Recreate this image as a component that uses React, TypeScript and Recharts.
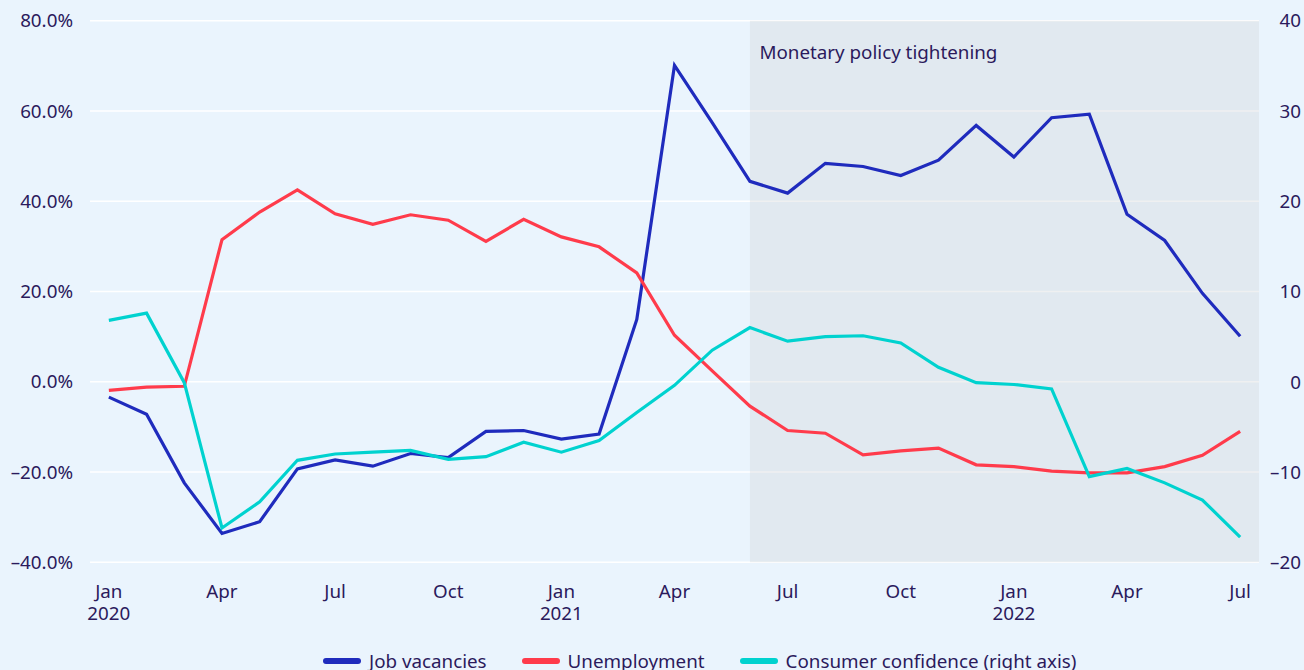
import React from 'react';
import {
  LineChart,
  Line,
  XAxis,
  YAxis,
  CartesianGrid,
  ReferenceArea,
} from 'recharts';

// monthly, Jan 2020 .. Jul 2022
const months = [
  'Jan 2020', 'Feb 2020', 'Mar 2020', 'Apr 2020', 'May 2020', 'Jun 2020',
  'Jul 2020', 'Aug 2020', 'Sep 2020', 'Oct 2020', 'Nov 2020', 'Dec 2020',
  'Jan 2021', 'Feb 2021', 'Mar 2021', 'Apr 2021', 'May 2021', 'Jun 2021',
  'Jul 2021', 'Aug 2021', 'Sep 2021', 'Oct 2021', 'Nov 2021', 'Dec 2021',
  'Jan 2022', 'Feb 2022', 'Mar 2022', 'Apr 2022', 'May 2022', 'Jun 2022',
  'Jul 2022',
];

// % change, left axis
const jobVacancies = [
  -3.4, -7.2, -22.4, -33.6, -31.0, -19.3, -17.3, -18.7, -15.9, -16.8, -11.0, -10.8,
  -12.7, -11.6, 13.8, 70.1, 57.4, 44.4, 41.8, 48.4, 47.7, 45.7, 49.1, 56.8,
  49.8, 58.5, 59.3, 37.1, 31.3, 19.6, 10.1,
];

const unemployment = [
  -1.9, -1.2, -1.0, 31.5, 37.6, 42.5, 37.2, 34.9, 37.0, 35.8, 31.1, 36.0,
  32.1, 29.9, 24.1, 10.3, 2.4, -5.4, -10.8, -11.4, -16.2, -15.3, -14.7, -18.4,
  -18.8, -19.8, -20.2, -20.2, -18.8, -16.3, -11.0,
];

// index, right axis
const consumerConfidence = [
  6.8, 7.6, -0.1, -16.2, -13.3, -8.7, -8.0, -7.8, -7.6, -8.6, -8.3, -6.7,
  -7.8, -6.5, -3.4, -0.4, 3.5, 6.0, 4.5, 5.0, 5.1, 4.3, 1.6, -0.1,
  -0.3, -0.8, -10.5, -9.6, -11.2, -13.1, -17.2,
];

const xTicks = [0, 3, 6, 9, 12, 15, 18, 21, 24, 27, 30];
const leftTicks = [-40, -20, 0, 20, 40, 60, 80];
const rightTicks = [-20, -10, 0, 10, 20, 30, 40];
const tighteningStart = 'Jun 2021';

const data = months.map((m, i) => ({
  idx: i,
  month: m,
  jobs: jobVacancies[i],
  unemp: unemployment[i],
  conf: consumerConfidence[i],
}));

const TEXT = '#2b1a5c';
const FONT = '"Noto Sans", "Open Sans", sans-serif';
const FS = 18.8;
const BLUE = '#1f2bbd';
const RED = '#ff3b4b';
const CYAN = '#00d2cf';

const fmtLeft = (v: number) => (v < 0 ? '\u2013' : '') + Math.abs(v).toFixed(1) + '%';
const fmtRight = (v: number) => (v < 0 ? '\u2013' : '') + Math.abs(v);

function XTick({ x, y, payload }: any) {
  const [m, yr] = months[payload.value].split(' ');
  const showYear = m === 'Jan';
  return (
    <text x={x} y={y} textAnchor="middle" fill={TEXT} fontSize={FS} fontFamily={FONT}>
      <tspan x={x} dy={36}>{m}</tspan>
      {showYear && <tspan x={x} dy={21.5}>{yr}</tspan>}
    </text>
  );
}

function RightTick({ x, y, payload }: any) {
  return (
    <text x={x + 42} y={y} dy="0.36em" textAnchor="end" fill={TEXT} fontSize={FS} fontFamily={FONT}>
      {fmtRight(payload.value)}
    </text>
  );
}

const legendItems = [
  { name: 'Job vacancies', color: BLUE },
  { name: 'Unemployment', color: RED },
  { name: 'Consumer confidence (right axis)', color: CYAN },
];

export default function App() {
  return (
    <div
      style={{
        position: 'absolute',
        left: 0,
        top: 0,
        width: 1304,
        height: 670,
        background: '#eaf4fd',
        overflow: 'hidden',
        fontFamily: FONT,
      }}
    >
      <LineChart
        width={1304}
        height={670}
        data={data}
        margin={{ top: 20.7, right: 0, bottom: 0, left: 0 }}
      >
        <CartesianGrid vertical={false} stroke="#ffffff" strokeWidth={1.5} yAxisId="left" />
        <XAxis
          dataKey="idx"
          type="number"
          domain={[-0.5, 30.5]}
          ticks={xTicks}
          height={107.7}
          axisLine={false}
          tickLine={false}
          tickSize={0}
          tickMargin={0}
          tick={<XTick />}
          interval={0}
        />
        <YAxis
          yAxisId="left"
          domain={[-40, 80]}
          ticks={leftTicks}
          width={90}
          axisLine={false}
          tickLine={false}
          tickSize={0}
          tickMargin={17}
          tickFormatter={fmtLeft}
          tick={{ fill: TEXT, fontSize: FS, fontFamily: FONT }}
        />
        <YAxis
          yAxisId="right"
          orientation="right"
          domain={[-20, 40]}
          ticks={rightTicks}
          width={45}
          axisLine={false}
          tickLine={false}
          tickSize={0}
          tickMargin={0}
          tick={<RightTick />}
        />
        <ReferenceArea
          yAxisId="left"
          x1={months.indexOf(tighteningStart)}
          x2={30.5}
          fill="rgb(208,213,216)"
          fillOpacity={0.35}
          stroke="none"
          label={{
            content: (props: any) => (
              <text
                x={props.viewBox.x + 9.5}
                y={props.viewBox.y + 38}
                fill={TEXT}
                fontSize={FS}
                fontFamily={FONT}
              >
                Monetary policy tightening
              </text>
            ),
          }}
        />
        <Line
          yAxisId="left"
          type="linear"
          dataKey="jobs"
          name="Job vacancies"
          stroke={BLUE}
          strokeWidth={3.2}
          dot={false}
          isAnimationActive={false}
        />
        <Line
          yAxisId="left"
          type="linear"
          dataKey="unemp"
          name="Unemployment"
          stroke={RED}
          strokeWidth={3.2}
          dot={false}
          isAnimationActive={false}
        />
        <Line
          yAxisId="right"
          type="linear"
          dataKey="conf"
          name="Consumer confidence (right axis)"
          stroke={CYAN}
          strokeWidth={3.2}
          dot={false}
          isAnimationActive={false}
        />
      </LineChart>
      <div
        style={{
          position: 'absolute',
          left: 323,
          top: 648,
          display: 'flex',
          alignItems: 'center',
          fontSize: FS,
          color: TEXT,
          whiteSpace: 'nowrap',
        }}
      >
        {legendItems.map((it, i) => (
          <div key={it.name} style={{ display: 'flex', alignItems: 'center', marginLeft: i === 0 ? 0 : 35 }}>
            <span
              style={{
                display: 'inline-block',
                width: 38,
                height: 6,
                borderRadius: 3,
                background: it.color,
                marginRight: 8,
              }}
            />
            <span>{it.name}</span>
          </div>
        ))}
      </div>
    </div>
  );
}
